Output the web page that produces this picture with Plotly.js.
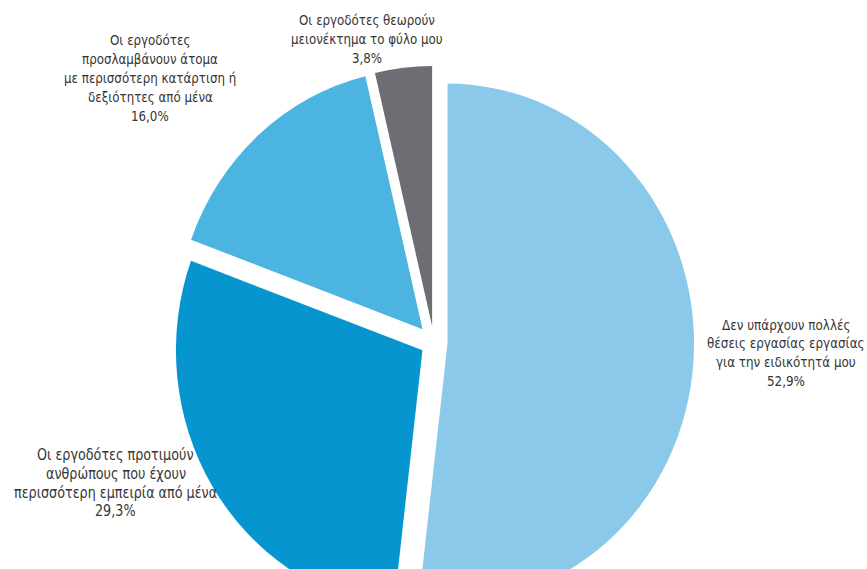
<!DOCTYPE html>
<html>
<head>
<meta charset="utf-8">
<script src="https://cdn.plot.ly/plotly-3.0.1.min.js"></script>
<style>
html,body{margin:0;padding:0;background:#fff;overflow:hidden;width:867px;height:569px;}
#chart{width:867px;height:700px;transform-origin:0 0;transform:scaleY(1.055);}
</style>
</head>
<body>
<div id="chart"></div>
<script>
// Data
var categories = [
  "Δεν υπάρχουν πολλές<br>θέσεις εργασίας εργασίας<br>για την ειδικότητά μου",
  "Οι εργοδότες προτιμούν<br>ανθρώπους που έχουν<br>περισσότερη εμπειρία από μένα",
  "Οι εργοδότες<br>προσλαμβάνουν άτομα<br>με περισσότερη κατάρτιση ή<br>δεξιότητες από μένα",
  "Οι εργοδότες θεωρούν<br>μειονέκτημα το φύλο μου"
];
var values = [52.9, 29.3, 16.0, 3.8];
var colors = ["#8AC9EA", "#0795D0", "#4CB4E1", "#6C6E73"];

var W = 867, H = 700, S = 1.055;
// label layout: centre x, first line y, line spacing, font size (pixels)
var labelX = [786, 116, 150, 367];
var labelY0 = [325, 455, 41, 21];
var labelGap = [18.7, 18.6, 19, 19];
var labelSize = [13.3, 14.2, 13.2, 13.2];

function fmt(v){ return v.toFixed(1).replace(".", ",") + "%"; }

var fontFam = "'Liberation Sans Narrow', 'DejaVu Sans Condensed', 'Roboto Condensed', Arial, sans-serif";

var annotations = [];
categories.forEach(function(c, i){
  var lines = c.split("<br>").concat([fmt(values[i])]);
  lines.forEach(function(t, k){
    var yRef = labelY0[i] + k * labelGap[i];
    annotations.push({
      text: t,
      x: labelX[i] / W, y: 1 - (yRef / S) / H,
      xref: "paper", yref: "paper",
      xanchor: "center", yanchor: "middle", align: "center",
      showarrow: false,
      font: {family: fontFam, size: labelSize[i], color: "#353535"}
    });
  });
});

var cx = 434, cy = 324.9, r = 246.5;
var pulls = [0.055, 0.055, 0.07, 0.065];
var box = 2 * r * (1 + Math.max.apply(null, pulls));
var trace = {
  type: "pie",
  values: values,
  labels: categories,
  sort: false,
  direction: "clockwise",
  rotation: 0,
  pull: pulls,
  textinfo: "none",
  hoverinfo: "none",
  marker: {colors: colors, line: {width: 0}},
  domain: {
    x: [(cx - box/2) / W, (cx + box/2) / W],
    y: [1 - (cy + box/2) / H, 1 - (cy - box/2) / H]
  }
};

var layout = {
  width: W, height: H,
  margin: {l: 0, r: 0, t: 0, b: 0},
  paper_bgcolor: "#ffffff",
  showlegend: false,
  annotations: annotations,
  font: {family: fontFam}
};

Plotly.newPlot("chart", [trace], layout, {displayModeBar: false, staticPlot: true});
</script>
</body>
</html>
